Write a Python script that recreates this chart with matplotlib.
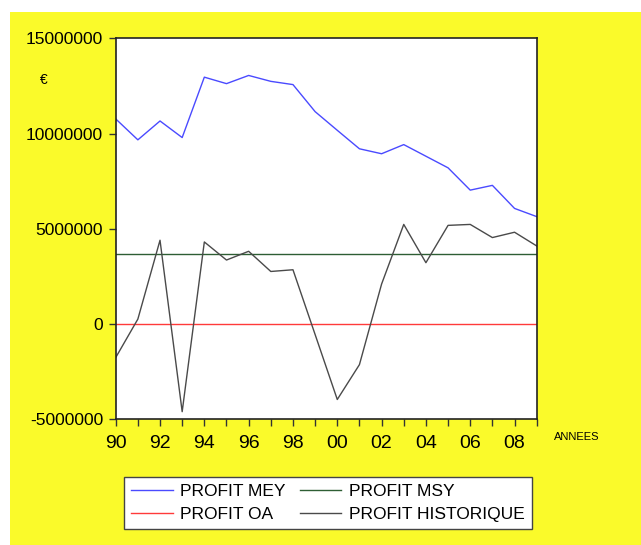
import matplotlib
matplotlib.use("Agg")
import matplotlib.pyplot as plt
from matplotlib.patches import Rectangle

plt.rcParams['font.family'] = ['Liberation Sans', 'DejaVu Sans']

years = list(range(1990, 2010))
profit_mey = [10.77, 9.67, 10.66, 9.79, 12.96, 12.62, 13.05, 12.74, 12.57, 11.15,
              10.17, 9.20, 8.94, 9.42, 8.81, 8.20, 7.03, 7.28, 6.07, 5.64]
profit_mey = [v * 1e6 for v in profit_mey]
profit_msy_level = 3.70e6
profit_msy = [profit_msy_level] * len(years)
profit_oa = [0.0] * len(years)
profit_hist = [-1.76, 0.26, 4.40, -4.60, 4.31, 3.36, 3.82, 2.76, 2.85, -0.55,
               -3.96, -2.13, 2.10, 5.23, 3.22, 5.18, 5.23, 4.54, 4.82, 4.10]
profit_hist = [v * 1e6 for v in profit_hist]

yticks = [-5000000, 0, 5000000, 10000000, 15000000]
xlabel_years = list(range(1990, 2010, 2))

W, H = 641, 545
fig = plt.figure(figsize=(W / 100, H / 100), dpi=100)
fig.patch.set_facecolor('white')
fig.patches.append(Rectangle((10 / W, 0), 1 - 10 / W, 1 - 12 / H,
                             transform=fig.transFigure, facecolor='#fafa2a',
                             edgecolor='none', zorder=-5))

ax = fig.add_axes([115.7 / W, 1 - 419.3 / H, 421 / W, 381 / H])
ax.set_zorder(2)
ax.set_facecolor('white')

l1, = ax.plot(years, profit_mey, color='#4a4aff', lw=1.0, label='PROFIT MEY')
l2, = ax.plot(years, profit_msy, color='#2e5e34', lw=1.0, label='PROFIT MSY')
l3, = ax.plot(years, profit_oa, color='#ff3a3a', lw=1.0, label='PROFIT OA')
l4, = ax.plot(years, profit_hist, color='#4a4a4a', lw=1.0, label='PROFIT HISTORIQUE')

ax.set_xlim(1990, 2009)
ax.set_ylim(-5000000, 15000000)
ax.set_yticks(yticks)
ax.set_yticklabels([str(v) for v in yticks])
ax.set_xticks(years, minor=True)
ax.set_xticks(xlabel_years)
ax.set_xticklabels([f"{y % 100:02d}" for y in xlabel_years])

ax.tick_params(axis='both', which='both', direction='out', length=5, width=1, color='#333333')
ax.tick_params(axis='y', labelsize=12.5, pad=4)
ax.tick_params(axis='x', labelsize=14, pad=6)
for s in ax.spines.values():
    s.set_color('#222222')
    s.set_linewidth(1.2)

fig.text(44 / W, 1 - 80 / H, '€', fontsize=10, ha='center', va='center')
fig.text(577 / W, 1 - 437 / H, 'ANNEES', fontsize=8, ha='center', va='center')

leg = fig.legend([l1, l3, l2, l4],
                 ['PROFIT MEY', 'PROFIT OA', 'PROFIT MSY', 'PROFIT HISTORIQUE'],
                 ncol=2, loc='upper left', bbox_to_anchor=(124 / W, 1 - 477 / H),
                 borderaxespad=0, fancybox=False, framealpha=1,
                 edgecolor='#444444', fontsize=12.5, handlelength=2.4,
                 handletextpad=0.45, columnspacing=0.8, labelspacing=0.45,
                 borderpad=0.4)
leg.get_frame().set_linewidth(1.0)
leg.set_zorder(3)

fig.savefig('out.png', dpi=100, facecolor=fig.get_facecolor())
